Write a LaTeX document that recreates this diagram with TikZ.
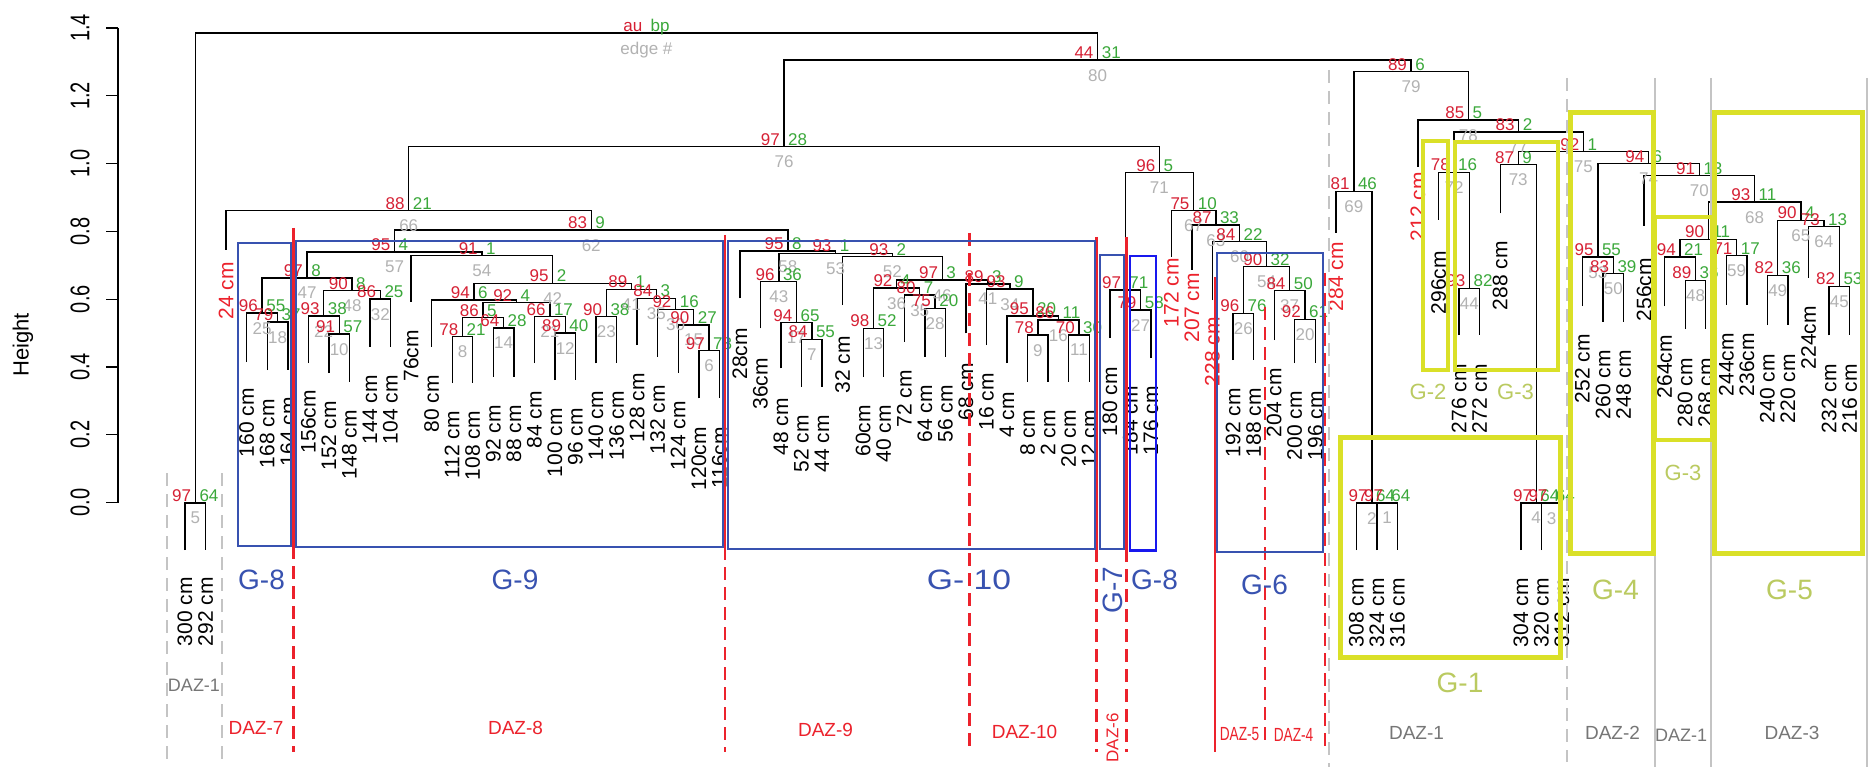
\documentclass[tikz,border=0pt]{standalone}
\usepackage{fontspec}
\setmainfont{Liberation Sans}
\usepackage{graphicx}
\usepackage{tikz}

\definecolor{aured}{RGB}{214,32,52}
\definecolor{bpgreen}{RGB}{58,168,58}
\definecolor{edgegrey}{RGB}{178,178,178}
\definecolor{dazred}{RGB}{236,34,44}
\definecolor{dazgrey}{RGB}{196,196,196}
\definecolor{dazgreytext}{RGB}{118,118,118}
\definecolor{grpblue}{RGB}{56,82,176}
\definecolor{brightblue}{RGB}{24,24,238}
\definecolor{grpyellow}{RGB}{218,224,40}
\definecolor{grpolive}{RGB}{186,202,96}

\newcommand{\fsz}[1]{\fontsize{#1}{#1}\selectfont}
\newcommand{\mrg}[5]{\draw[tree] (#1,#2) |- (#3,#5) -- (#3,#4);}
\newcommand{\pv}[5]{%
  \node[aulab] at (#1-4,#2-1.5) {#3};
  \node[bplab] at (#1+4,#2-1.5) {#4};
  \node[edlab] at (#1,#2+9) {#5};}

\tikzset{
  tree/.style={line width=1.4pt},
  aulab/.style={anchor=base east, inner sep=0pt, text=aured, font=\fsz{17}},
  bplab/.style={anchor=base west, inner sep=0pt, text=bpgreen, font=\fsz{17}},
  edlab/.style={anchor=north, inner sep=0pt, text=edgegrey, font=\fsz{17}},
  leaflab/.style={rotate=90, anchor=east, inner sep=0pt, font=\fsz{21}},
  redleaf/.style={leaflab, text=dazred},
  redline/.style={draw=dazred, line width=2.5pt},
  reddash/.style={redline, dash pattern=on 13pt off 7pt},
  greyline/.style={draw=dazgrey, line width=2pt},
  greydash/.style={greyline, dash pattern=on 13pt off 8pt},
  bluebox/.style={draw=grpblue, line width=2pt},
  yelbox/.style={draw=grpyellow, line width=5pt},
  bluelab/.style={text=grpblue, font=\fsz{28}, inner sep=0pt},
  yellab/.style={text=grpolive, font=\fsz{28}, inner sep=0pt},
  redzone/.style={text=dazred, font=\fsz{19}, inner sep=0pt},
  greyzone/.style={text=dazgreytext, font=\fsz{19}, inner sep=0pt}
}

\begin{document}
\begin{tikzpicture}[x=1pt, y=-1pt]
  \fill[white] (0,0) rectangle (1868,767);
  \useasboundingbox (0,0) rectangle (1868,767);

  % axis
  \draw[tree] (118,28) -- (118,502.5);
  \foreach \v/\y in {1.4/28, 1.2/95.8, 1.0/163.6, 0.8/231.4, 0.6/299.2, 0.4/366.9, 0.2/434.7, 0.0/502.5} {
    \draw[tree] (106,\y) -- (118,\y);
    \node[rotate=90, font=\fsz{20}, inner sep=0pt] at (80,\y) {\scalebox{1}[1.35]{\v}};
  }
  \node[rotate=90, font=\fsz{22}, inner sep=0pt] at (23,345) {Height};

  % dendrogram
  \mrg{195.3}{503}{1097.6}{60}{33}
  \mrg{185}{550}{205.6}{550}{503}
  \mrg{784}{146.7}{1411.1}{71.7}{60}
  \mrg{408.7}{210.7}{1159.4}{172.7}{146.7}
  \mrg{226.1}{250}{591.2}{230}{210.7}
  \mrg{394.5}{252}{787.8}{251}{230}
  \mrg{307.1}{278}{481.9}{255.7}{252}
  \mrg{262.1}{313}{352}{290.7}{278}
  \mrg{246.7}{362}{277.5}{322}{313}
  \mrg{267.2}{370}{287.8}{370}{322}
  \mrg{323.7}{316}{380.3}{299}{290.7}
  \mrg{308.3}{363}{339.2}{334}{316}
  \mrg{328.9}{373}{349.4}{381.7}{334}
  \mrg{370}{346.7}{390.5}{346.7}{299}
  \mrg{411.1}{301.7}{552.7}{283.3}{255.7}
  \mrg{474}{300}{631.4}{289.3}{283.3}
  \mrg{431.6}{346.7}{516.4}{302.7}{300}
  \mrg{483}{317.7}{549.8}{316.7}{302.7}
  \mrg{462.5}{336.7}{503.5}{328}{317.7}
  \mrg{452.2}{383}{472.7}{383}{336.7}
  \mrg{493.3}{376.7}{513.8}{376.7}{328}
  \mrg{534.4}{363}{565.2}{333}{316.7}
  \mrg{554.9}{380}{575.5}{380}{333}
  \mrg{606.3}{316.7}{656.4}{298.3}{289.3}
  \mrg{596}{363.3}{616.6}{363.3}{316.7}
  \mrg{637.1}{345}{675.6}{309.3}{298.3}
  \mrg{657.7}{356.7}{693.6}{325}{309.3}
  \mrg{678.2}{372.7}{709}{350.7}{325}
  \mrg{698.8}{398.3}{719.3}{398.3}{350.7}
  \mrg{739.9}{298.3}{835.6}{253.3}{251}
  \mrg{778.8}{281.7}{892.4}{256.7}{253.3}
  \mrg{760.4}{328.3}{796.4}{322.7}{281.7}
  \mrg{781}{368.3}{811.8}{339.3}{322.7}
  \mrg{801.5}{386.7}{822.1}{386.7}{339.3}
  \mrg{842.6}{305}{942.2}{280}{256.7}
  \mrg{896.6}{288}{987.8}{284}{280}
  \mrg{873.5}{328.3}{919.7}{295}{288}
  \mrg{863.2}{377}{883.7}{377}{328.3}
  \mrg{904.3}{341.7}{935.1}{308.3}{295}
  \mrg{924.8}{356.7}{945.4}{356.7}{308.3}
  \mrg{965.9}{333.3}{1009.8}{289}{284}
  \mrg{986.5}{345}{1033}{316}{289}
  \mrg{1007}{363}{1058.4}{320}{316}
  \mrg{1037.9}{335}{1079}{335}{320}
  \mrg{1027.6}{381.7}{1048.1}{381.7}{335}
  \mrg{1068.7}{381.7}{1089.2}{381.7}{335}
  \mrg{1125.2}{290}{1193.6}{210.7}{172.7}
  \mrg{1109.8}{338}{1140.6}{310}{290}
  \mrg{1130.3}{358}{1150.9}{358}{310}
  \mrg{1171.4}{256.7}{1215.8}{225}{210.7}
  \mrg{1192}{270}{1239.5}{241.7}{225}
  \mrg{1212.5}{300}{1266.5}{266.7}{241.7}
  \mrg{1243.4}{313.3}{1289.6}{290.7}{266.7}
  \mrg{1233.1}{360}{1253.6}{360}{313.3}
  \mrg{1274.2}{340}{1305}{319.3}{290.7}
  \mrg{1294.7}{363}{1315.3}{363}{319.3}
  \mrg{1353.8}{191.5}{1468.4}{120}{71.7}
  \mrg{1335.8}{233}{1371.8}{503}{191.5}
  \mrg{1356.4}{550}{1387.2}{503}{503}
  \mrg{1376.9}{550}{1397.5}{550}{503}
  \mrg{1418}{167}{1518.7}{131.9}{120}
  \mrg{1454}{172.4}{1583.4}{151.8}{131.9}
  \mrg{1438.6}{220}{1469.4}{288.4}{172.4}
  \mrg{1459.1}{335}{1479.7}{335}{288.4}
  \mrg{1518.2}{164.8}{1648.5}{163.8}{151.8}
  \mrg{1500.2}{213.5}{1536.2}{503}{164.8}
  \mrg{1520.8}{550}{1551.6}{503}{503}
  \mrg{1541.3}{550}{1561.9}{550}{503}
  \mrg{1597.8}{257}{1699.3}{175.8}{163.8}
  \mrg{1582.4}{306}{1613.3}{273.6}{257}
  \mrg{1603}{321.6}{1623.5}{321.6}{273.6}
  \mrg{1644.1}{225.6}{1754.5}{202.2}{175.8}
  \mrg{1708.3}{239.3}{1800.8}{220.4}{202.2}
  \mrg{1680}{257.1}{1736.6}{255.8}{239.3}
  \mrg{1664.6}{306.2}{1695.5}{280.5}{257.1}
  \mrg{1685.2}{329}{1705.7}{329}{280.5}
  \mrg{1726.3}{304.5}{1746.8}{304.5}{255.8}
  \mrg{1777.7}{275.3}{1823.9}{226.6}{220.4}
  \mrg{1767.4}{325}{1787.9}{325}{275.3}
  \mrg{1808.5}{278}{1839.3}{286.3}{226.6}
  \mrg{1829}{335.4}{1849.6}{335.4}{286.3}

  % au / bp / edge numbers
  \pv{646.4}{33}{au}{bp}{edge \#}
  \pv{195.3}{503}{97}{64}{5}
  \pv{1097.6}{60}{44}{31}{80}
  \pv{784}{146.7}{97}{28}{76}
  \pv{408.7}{210.7}{88}{21}{66}
  \pv{591.2}{230}{83}{9}{62}
  \pv{394.5}{252}{95}{4}{57}
  \pv{307.1}{278}{97}{8}{47}
  \pv{262.1}{313}{96}{55}{25}
  \pv{277.5}{322}{79}{37}{18}
  \pv{352}{290.7}{90}{8}{48}
  \pv{323.7}{316}{93}{38}{22}
  \pv{339.2}{334}{91}{57}{10}
  \pv{380.3}{299}{86}{25}{32}
  \pv{481.9}{255.7}{91}{1}{54}
  \pv{552.7}{283.3}{95}{2}{42}
  \pv{474}{300}{94}{6}{}
  \pv{516.4}{302.7}{92}{4}{}
  \pv{483}{317.7}{86}{5}{}
  \pv{462.5}{336.7}{78}{21}{8}
  \pv{503.5}{328}{64}{28}{14}
  \pv{549.8}{316.7}{66}{17}{21}
  \pv{565.2}{333}{89}{40}{12}
  \pv{631.4}{289.3}{89}{1}{41}
  \pv{606.3}{316.7}{90}{38}{23}
  \pv{656.4}{298.3}{84}{3}{35}
  \pv{675.6}{309.3}{92}{16}{30}
  \pv{693.6}{325}{90}{27}{15}
  \pv{709}{350.7}{97}{78}{6}
  \pv{787.8}{251}{95}{8}{58}
  \pv{835.6}{253.3}{93}{1}{53}
  \pv{778.8}{281.7}{96}{36}{43}
  \pv{796.4}{322.7}{94}{65}{17}
  \pv{811.8}{339.3}{84}{55}{7}
  \pv{892.4}{256.7}{93}{2}{52}
  \pv{942.2}{280}{97}{3}{46}
  \pv{896.6}{288}{92}{4}{36}
  \pv{873.5}{328.3}{98}{52}{13}
  \pv{919.7}{295}{80}{7}{35}
  \pv{935.1}{308.3}{75}{20}{28}
  \pv{987.8}{284}{89}{3}{41}
  \pv{1009.8}{289}{93}{9}{34}
  \pv{1033}{316}{95}{20}{}
  \pv{1058.4}{320}{86}{11}{16}
  \pv{1037.9}{335}{78}{}{9}
  \pv{1079}{335}{70}{30}{11}
  \pv{1159.4}{172.7}{96}{5}{71}
  \pv{1125.2}{290}{97}{71}{}
  \pv{1140.6}{310}{79}{58}{27}
  \pv{1193.6}{210.7}{75}{10}{67}
  \pv{1215.8}{225}{87}{33}{63}
  \pv{1239.5}{241.7}{84}{22}{60}
  \pv{1266.5}{266.7}{90}{32}{54}
  \pv{1243.4}{313.3}{96}{76}{26}
  \pv{1289.6}{290.7}{84}{50}{37}
  \pv{1305}{319.3}{92}{61}{20}
  \pv{1411.1}{71.7}{89}{6}{79}
  \pv{1353.8}{191.5}{81}{46}{69}
  \pv{1371.8}{503}{97}{64}{2}
  \pv{1387.2}{503}{97}{64}{1}
  \pv{1468.4}{120}{85}{5}{78}
  \pv{1518.7}{131.9}{83}{2}{77}
  \pv{1454}{172.4}{78}{16}{72}
  \pv{1469.4}{288.4}{93}{82}{44}
  \pv{1518.2}{164.8}{87}{9}{73}
  \pv{1536.2}{503}{97}{64}{4}
  \pv{1551.6}{503}{97}{64}{3}
  \pv{1583.4}{151.8}{92}{1}{75}
  \pv{1648.5}{163.8}{94}{6}{74}
  \pv{1597.8}{257}{95}{55}{53}
  \pv{1613.3}{273.6}{83}{39}{50}
  \pv{1699.3}{175.8}{91}{13}{70}
  \pv{1754.5}{202.2}{93}{11}{68}
  \pv{1708.3}{239.3}{90}{11}{}
  \pv{1680}{257.1}{94}{21}{}
  \pv{1695.5}{280.5}{89}{36}{48}
  \pv{1736.6}{255.8}{71}{17}{59}
  \pv{1800.8}{220.4}{90}{4}{65}
  \pv{1823.9}{226.6}{73}{13}{64}
  \pv{1777.7}{275.3}{82}{36}{49}
  \pv{1839.3}{286.3}{82}{53}{45}

  % leaf labels
  \foreach \x/\t/\l in {185/577/300 cm, 205.6/577/292 cm, 246.7/388/160 cm,
      267.2/399/168 cm, 287.8/397/164 cm, 308.3/390/156cm, 328.9/401/152 cm,
      349.4/410/148 cm, 370/375/144 cm, 390.5/375/104 cm, 411.1/330/76cm,
      431.6/375/80 cm, 452.2/411/112 cm, 472.7/411/108 cm, 493.3/405/92 cm,
      513.8/405/88 cm, 534.4/391/84 cm, 554.9/408/100 cm, 575.5/408/96 cm,
      596/391/140 cm, 616.6/391/136 cm, 637.1/373/128 cm, 657.7/385/132 cm,
      678.2/401/124 cm, 698.8/427/120cm, 719.3/427/116cm, 739.9/328/28cm,
      760.4/358/36cm, 781/398/48 cm, 801.5/415/52 cm, 822.1/415/44 cm,
      842.6/336/32 cm, 863.2/405/60cm, 883.7/405/40 cm, 904.3/370/72 cm,
      924.8/385/64 cm, 945.4/385/56 cm, 965.9/363/68 cm, 986.5/373/16 cm,
      1007/392/4 cm, 1027.6/410/8 cm, 1048.1/410/2 cm, 1068.7/410/20 cm,
      1089.2/410/12 cm, 1109.8/367/180 cm, 1130.3/386/184 cm, 1150.9/386/176 cm,
      1233.1/388/192 cm, 1253.6/388/188 cm, 1274.2/368/204 cm, 1294.7/391/200 cm,
      1315.3/391/196 cm, 1356.4/578/308 cm, 1376.9/578/324 cm, 1397.5/578/316 cm,
      1438.6/251/296cm, 1459.1/364/276 cm, 1479.7/364/272 cm, 1500.2/241/288 cm,
      1520.8/578/304 cm, 1541.3/578/320 cm, 1561.9/578/312 cm, 1582.4/334/252 cm,
      1603/350/260 cm, 1623.5/350/248 cm, 1644.1/258/256cm, 1664.6/335/264cm,
      1685.2/358/280 cm, 1705.7/358/268 cm, 1726.3/333/244cm, 1746.8/333/236cm,
      1767.4/354/240 cm, 1787.9/354/220 cm, 1808.5/306/224cm, 1829/364/232 cm,
      1849.6/364/216 cm}
    \node[leaflab] at (\x,\t) {\l};
  \foreach \x/\t/\l in {226.1/262/24 cm, 1171.4/258/172 cm, 1192/273/207 cm,
      1212.5/317/228 cm, 1335.8/242/284 cm, 1418/172/212 cm}
    \node[redleaf] at (\x,\t) {\l};

  % zone lines
  \draw[greydash] (167.3,473) -- (167.3,760);
  \draw[greydash] (221.7,473) -- (221.7,760);
  \draw[greydash] (1329.3,70) -- (1329.3,767);
  \draw[greydash] (1567.3,78) -- (1567.3,762);
  \foreach \x in {1655,1711,1866.5}
    \draw[greyline] (\x,78) -- (\x,767);
  \foreach \x/\a/\b in {293.3/228/546, 725/235/547, 1096.7/237/549, 1126.7/237/549} {
    \draw[redline] (\x,\a) -- (\x,\b);
    \draw[reddash] (\x,\b) -- (\x,752);
  }
  \draw[reddash] (969.3,233) -- (969.3,752);
  \draw[redline] (1215,277) -- (1215,752);
  \draw[reddash] (1265,307) -- (1265,745);
  \draw[reddash] (1325,273) -- (1325,752);

  % group boxes
  \draw[bluebox] (237.7,242.7) rectangle (291,546);
  \draw[bluebox] (296,240.7) rectangle (723.3,546.7);
  \draw[bluebox] (728.3,240.7) rectangle (1095,549.3);
  \draw[bluebox] (1100,255) rectangle (1124.3,549.3);
  \draw[bluebox, draw=brightblue, line width=2.5pt] (1130,256) rectangle (1156,550.7);
  \draw[bluebox] (1217.3,253) rectangle (1323.3,551.7);
  \draw[yelbox] (1340,437.3) rectangle (1560,657.3);
  \draw[yelbox, line width=4pt] (1423,141) rectangle (1448,370);
  \draw[yelbox, line width=4pt] (1455,142) rectangle (1558,370);
  \draw[yelbox] (1570,113) rectangle (1653,553);
  \draw[yelbox, line width=4pt] (1655,217) rectangle (1712,440);
  \draw[yelbox] (1714,113) rectangle (1862,553);

  % group labels
  \node[bluelab] at (261.5,580) {G-8};
  \node[bluelab] at (515,580) {G-9};
  \node[bluelab, xscale=1.2] at (969,580) {G- 10};
  \node[bluelab, rotate=90] at (1113,590) {G-7};
  \node[bluelab] at (1154.5,580) {G-8};
  \node[bluelab] at (1264.5,585) {G-6};
  \node[yellab] at (1460,683) {G-1};
  \node[yellab, font=\fsz{22}] at (1428,392) {G-2};
  \node[yellab, font=\fsz{22}] at (1515.5,392) {G-3};
  \node[yellab] at (1615.5,590) {G-4};
  \node[yellab, font=\fsz{22}] at (1683,473) {G-3};
  \node[yellab] at (1789.5,590) {G-5};

  % zone labels
  \node[greyzone, font=\fsz{18}] at (194,685) {DAZ-1};
  \node[redzone] at (256,728) {DAZ-7};
  \node[redzone] at (515.5,728) {DAZ-8};
  \node[redzone] at (825.5,730) {DAZ-9};
  \node[redzone] at (1024.5,732) {DAZ-10};
  \node[redzone, font=\fsz{17}, rotate=90] at (1112.5,738) {DAZ-6};
  \node[redzone, xscale=0.72] at (1239.5,734) {DAZ-5};
  \node[redzone, xscale=0.72] at (1293.5,735) {DAZ-4};
  \node[greyzone] at (1416.5,733) {DAZ-1};
  \node[greyzone] at (1612.5,733) {DAZ-2};
  \node[greyzone, font=\fsz{18}] at (1681,735) {DAZ-1};
  \node[greyzone] at (1792,733) {DAZ-3};
\end{tikzpicture}
\end{document}
